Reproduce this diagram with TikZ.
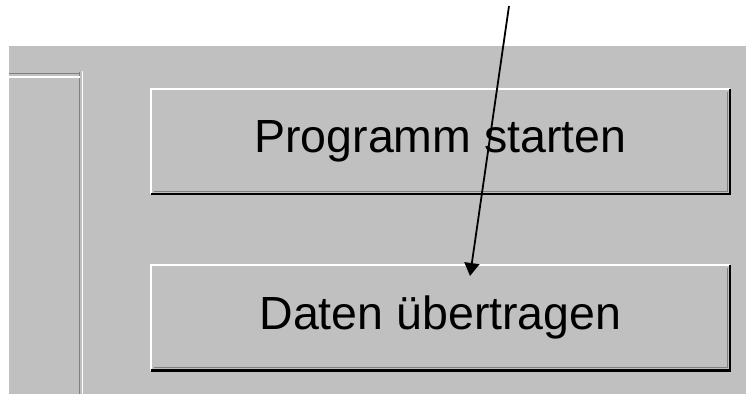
\documentclass[tikz,border=0pt]{standalone}
\usepackage{fontspec}
\setmainfont{Liberation Sans}
\usetikzlibrary{arrows.meta,positioning,calc}
\definecolor{wingray}{RGB}{192,192,192}
\definecolor{winshadow}{RGB}{128,128,128}

\begin{document}
\begin{tikzpicture}[
    x=1pt, y=-1pt,
    button/.style={fill=wingray, minimum width=579pt, minimum height=105pt, inner sep=0pt,
        font=\fontsize{46.5}{50}\selectfont},
    hilite/.style={draw=white, line width=2.2pt},
    shade/.style={draw=black, line width=2.4pt},
    pointer/.style={-{Triangle[length=13pt,width=15pt]}, line width=1.8pt}
]
    \useasboundingbox (0,0) rectangle (746,394);
    \fill[white] (0,0) rectangle (746,394);
    \fill[wingray] (9,46) rectangle (746,394);

    % etched frame of the panel on the left
    \draw[winshadow, line width=1.6pt] (9,73.5) -- (79.5,73.5);
    \draw[winshadow, line width=1.6pt] (79.5,72) -- (79.5,394);
    \draw[white, line width=1.6pt] (9,77) -- (80,77);
    \draw[white, line width=1.6pt] (82.5,71) -- (82.5,394);

    \node[button] (start) at (440.5,141.5) {Programm starten};
    \node[button, below=71pt of start] (upload) {Daten übertragen};

    % raised edges of the two buttons
    \foreach \b in {start,upload} {
        \draw[winshadow, line width=1.4pt] ($(\b.south west)+(3,-3)$) -- ($(\b.south east)+(-3,-3)$) -- ($(\b.north east)+(-3,3)$);
        \draw[hilite] (\b.south west) -- (\b.north west) -- (\b.north east);
        \draw[shade] (\b.south west) -- (\b.south east) -- (\b.north east);
    }

    \coordinate (tail) at (509,6);
    \coordinate (click) at (470,276);
    \draw[pointer] (tail) -- (click);
\end{tikzpicture}
\end{document}
